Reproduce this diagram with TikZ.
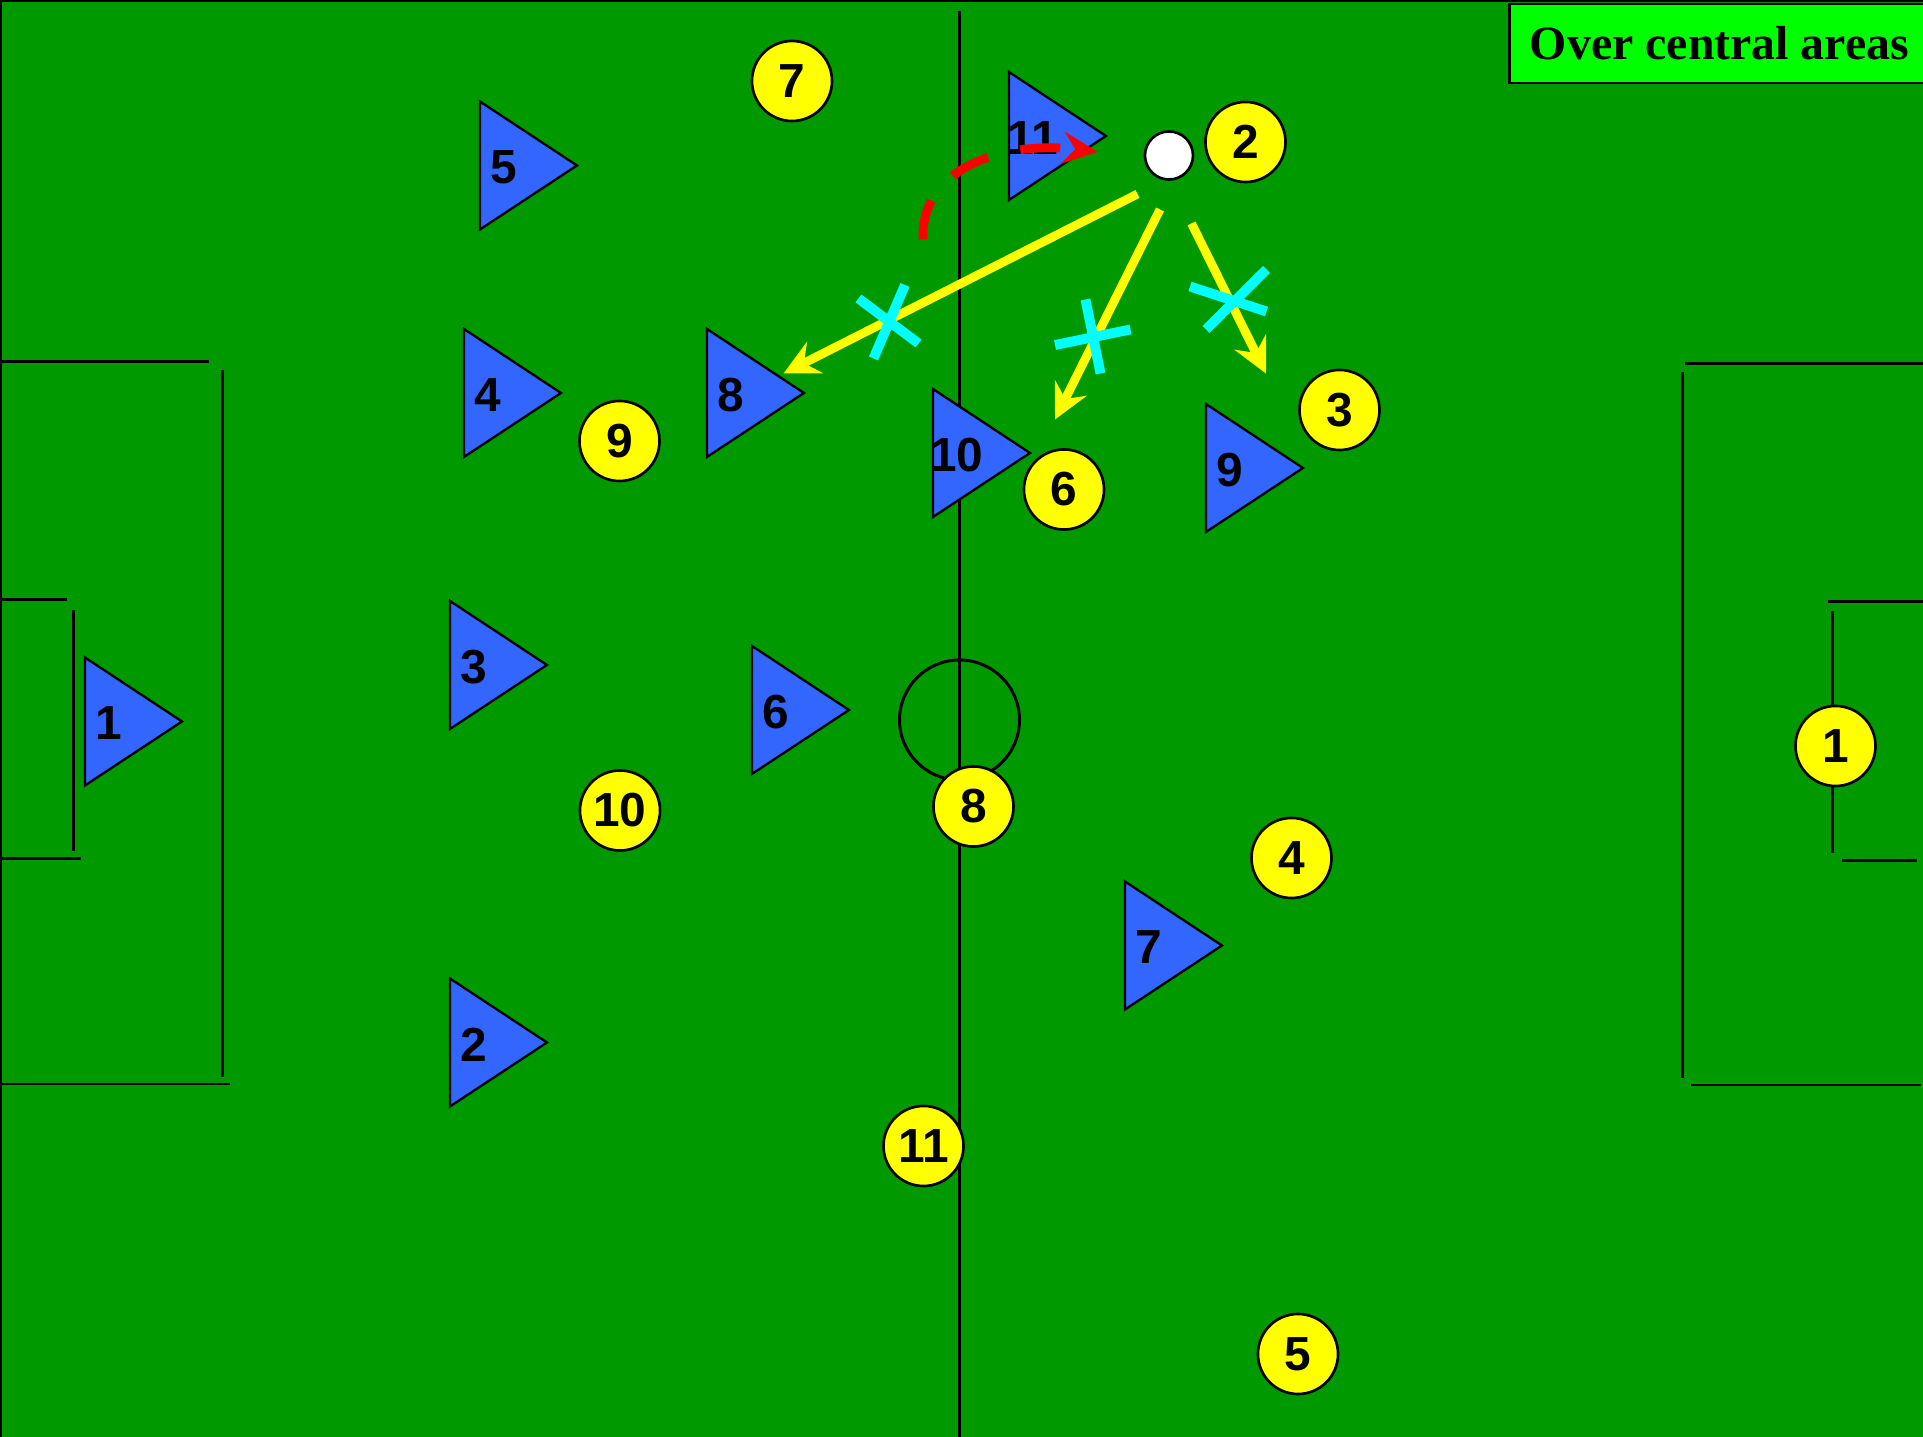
\documentclass[tikz,border=0pt]{standalone}
\usepackage{fontspec}
\setmainfont{Liberation Sans}
\newfontfamily\titlefont{Liberation Serif}
\usepackage{tikz}
\usetikzlibrary{arrows.meta, positioning}
\definecolor{PitchGreen}{HTML}{009900}
\definecolor{LabelGreen}{HTML}{00FF00}
\definecolor{TeamBlue}{HTML}{3366FF}
\definecolor{TeamYellow}{HTML}{FFFF00}
\definecolor{BlockCyan}{HTML}{00FFFF}

\begin{document}
\begin{tikzpicture}[x=0.01cm, y=-0.01cm,
    pitchline/.style={line width=0.85pt, black},
    bluemark/.style={fill=TeamBlue, draw=black, line width=0.65pt, line join=miter},
    shirt/.style={inner sep=0pt, font=\bfseries\fontsize{13.6}{16}\selectfont},
    yellowmark/.style={circle, fill=TeamYellow, draw=black, line width=0.75pt,
                       minimum size=0.8cm, inner sep=0pt, font=\bfseries\fontsize{13.6}{16}\selectfont},
    ballmark/.style={circle, fill=white, draw=black, line width=0.75pt, minimum size=0.48cm, inner sep=0pt},
    passarrow/.style={line width=2.5pt, TeamYellow, -{Stealth[length=10pt, width=10pt, inset=3.5pt]}},
    blockmark/.style={line width=2.8pt, BlockCyan},
    runarrow/.style={line width=2.5pt, red, dash pattern=on 11.4pt off 9.4pt,
                     -{Stealth[length=10pt, width=9pt, inset=3.5pt]}},
    titlebox/.style={draw=black, line width=0.75pt, fill=LabelGreen, minimum width=4.2cm,
                     minimum height=0.79cm, inner sep=0pt, font=\titlefont\bfseries\fontsize{13.6}{16}\selectfont}]
    \useasboundingbox (0,0) rectangle (1923,1437);

    % Pitch
    \fill[PitchGreen] (0,0) rectangle (1923,1437);
    \draw[line width=1.2pt] (0,1437) -- (0,0) -- (1923,0);
    \draw[pitchline] (959.5,11) -- (959.5,1437);
    \draw[pitchline] (959.5,720) circle (60);
    % left penalty and goal area
    \draw[pitchline] (0,361.5) -- (209,361.5);
    \draw[pitchline] (222.5,370) -- (222.5,1077);
    \draw[pitchline] (0,1084) -- (230,1084);
    \draw[pitchline] (0,600) -- (67,600);
    \draw[pitchline] (73.5,610) -- (73.5,851);
    \draw[pitchline] (0,858.5) -- (81,858.5);
    % right penalty and goal area
    \draw[pitchline] (1685,363.5) -- (1923,363.5);
    \draw[pitchline] (1682.5,372) -- (1682.5,1078.5);
    \draw[pitchline] (1691,1085) -- (1921,1085);
    \draw[pitchline] (1828,601.5) -- (1923,601.5);
    \draw[pitchline] (1832.5,611) -- (1832.5,853.5);
    \draw[pitchline] (1842,860.5) -- (1917,860.5);

    % Blue team
    \foreach \nm/\lx/\my in {1/85/721.5, 2/450/1042.5, 3/450/665, 4/464/393, 5/480/165.5,
                            6/752/710, 7/1125/945.5, 8/707/393, 9/1206/468, 10/933/453, 11/1009/136} {
        \filldraw[bluemark] (\lx,\my-64) -- (\lx+97,\my) -- (\lx,\my+64) -- cycle;
        \node[shirt] (blue\nm) at (\lx+24,\my+2) {\nm};
    }

    % Yellow team
    \node[yellowmark] (yel1) at (1835.5,746) {1};
    \node[yellowmark] (yel2) at (1245.5,142) {2};
    \node[yellowmark] (yel3) at (1339.5,410) {3};
    \node[yellowmark] (yel4) at (1291.5,858) {4};
    \node[yellowmark] (yel5) at (1298,1354) {5};
    \node[yellowmark] (yel6) at (1064,489.5) {6};
    \node[yellowmark] (yel7) at (792,81) {7};
    \node[yellowmark] (yel8) at (973.5,806.5) {8};
    \node[yellowmark] (yel9) at (619.5,441) {9};
    \node[yellowmark] (yel10) at (620,810.5) {10};
    \node[yellowmark] (yel11) at (923.5,1146) {11};
    \node[ballmark] (ball) at (1169,155.5) {};

    % Title
    \node[titlebox, anchor=north west] (title) at (1508,2.7) {Over central areas};

    % Passes
    \coordinate (longfrom) at (1137.5,194);
    \coordinate (longto) at (783.5,373.5);
    \coordinate (midfrom) at (1160,209.5);
    \coordinate (midto) at (1055,419.5);
    \coordinate (widefrom) at (1191.5,223.5);
    \coordinate (wideto) at (1266,373.5);
    \draw[passarrow] (longfrom) -- (longto);
    \draw[passarrow] (midfrom) -- (midto);
    \draw[passarrow] (widefrom) -- (wideto);

    % Blocked lanes
    \draw[blockmark] (905,285) -- (873.5,358.5) (858.5,298.5) -- (918.5,343.5);
    \draw[blockmark] (1085.5,299.5) -- (1100.5,373.5) (1055,345) -- (1130.5,329.5);
    \draw[blockmark] (1190,286.5) -- (1266.5,311.5) (1266.5,269.5) -- (1206,329.5);

    % Run of blue 11
    \coordinate (runfrom) at (923,239.5);
    \coordinate (runto) at (1098,152);
    \draw[runarrow] (runfrom) .. controls (920,170) and (1000,140) .. (runto);
\end{tikzpicture}
\end{document}
